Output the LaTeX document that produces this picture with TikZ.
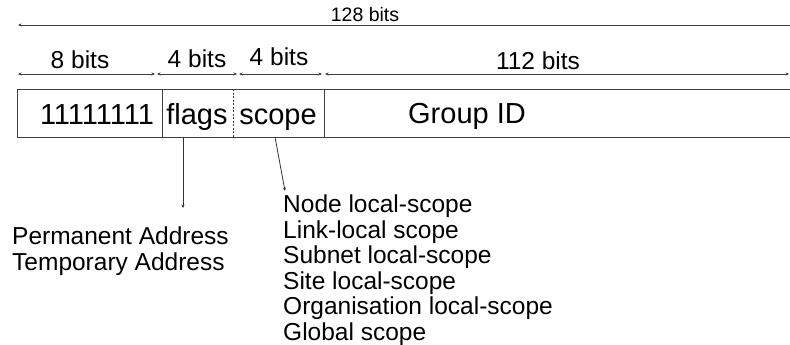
\documentclass[tikz,border=0pt]{standalone}
\usepackage{fontspec}
\setmainfont{Liberation Sans}
\usepackage{tikz}
\usetikzlibrary{
	arrows.meta,
	positioning,
	calc
}

\tikzset{
	dimline/.style={line width=0.8pt, draw=black!75, {Stealth[length=3.5pt,width=3pt]}-{Stealth[length=3.5pt,width=3pt]}},
	pointer/.style={line width=0.8pt, draw=black!80, -{Stealth[length=3.5pt,width=3pt]}},
	labeltext/.style={inner sep=0pt, anchor=base, font=\fontsize{24.5}{25}\selectfont},
	fieldtext/.style={inner sep=0pt, anchor=base, font=\fontsize{29}{30}\selectfont},
	listtext/.style={inner sep=0pt, align=left, anchor=west, font=\fontsize{24.5}{25.5}\selectfont}
}

\begin{document}
\begin{tikzpicture}[x=1pt,y=-1pt]
		
		\useasboundingbox[fill=white] (0,0) rectangle (790,345);
		
		% Full width
		\coordinate (fullL) at (18,25);
		\coordinate (fullR) at (795,25);
		\draw[line width=0.8pt, draw=black!75, {Stealth[length=3.5pt,width=3pt]}-] (fullL) -- (fullR);
		\node[inner sep=0pt, anchor=base, font=\fontsize{19.5}{20}\selectfont] (full) at (365,22) {128 bits};
		
		% Field widths
		\coordinate (dA) at (18,74);
		\coordinate (dB) at (155,74);
		\coordinate (dC) at (157,74);
		\coordinate (dD) at (237,74);
		\coordinate (dE) at (239,74);
		\coordinate (dF) at (322,74);
		\coordinate (dG) at (325,74);
		\coordinate (dH) at (789,74);
		\draw[dimline] (dA) -- (dB);
		\draw[dimline] (dC) -- (dD);
		\draw[dimline] (dE) -- (dF);
		\draw[dimline] (dG) -- (dH);
		
		\node[labeltext] (wprefix) at (80,69) {8 bits};
		\node[labeltext] (wflags) at (197,68) {4 bits};
		\node[labeltext] (wscope) at (279,66) {4 bits};
		\node[labeltext] (wgroup) at (538,70) {112 bits};
		
		% Address fields
		\draw[line width=0.8pt, draw=black!75] (800,89) -- (17,89) -- (17,137) -- (800,137);
		\draw[line width=0.8pt, draw=black!75] (162,89) -- (162,137);
		\draw[line width=0.6pt, draw=black!75, dashed, dash pattern=on 2pt off 1.5pt] (233,89) -- (233,137);
		\draw[line width=0.8pt, draw=black!75] (324,89) -- (324,137);
		
		\node[fieldtext] (prefix) at (97,124) {11111111};
		\node[fieldtext] (flags) at (197,124) {flags};
		\node[fieldtext] (scope) at (278,124) {scope};
		\node[fieldtext] (group) at (467,123) {Group ID};
		
		% Meanings
		\coordinate (flagsout) at (183,137);
		\coordinate (flagsin) at (183,208);
		\coordinate (scopeout) at (275,137);
		\coordinate (scopein) at (285,191);
		\draw[pointer] (flagsout) -- (flagsin);
		\draw[pointer] (scopeout) -- (scopein);
		
		\node[listtext] (flagvalues) at (12,251) {Permanent Address\\Temporary Address};
		\node[listtext] (scopevalues) at (283,270) {Node local-scope\\Link-local scope\\Subnet local-scope\\Site local-scope\\Organisation local-scope\\Global scope};
		
	\end{tikzpicture}
\end{document}
